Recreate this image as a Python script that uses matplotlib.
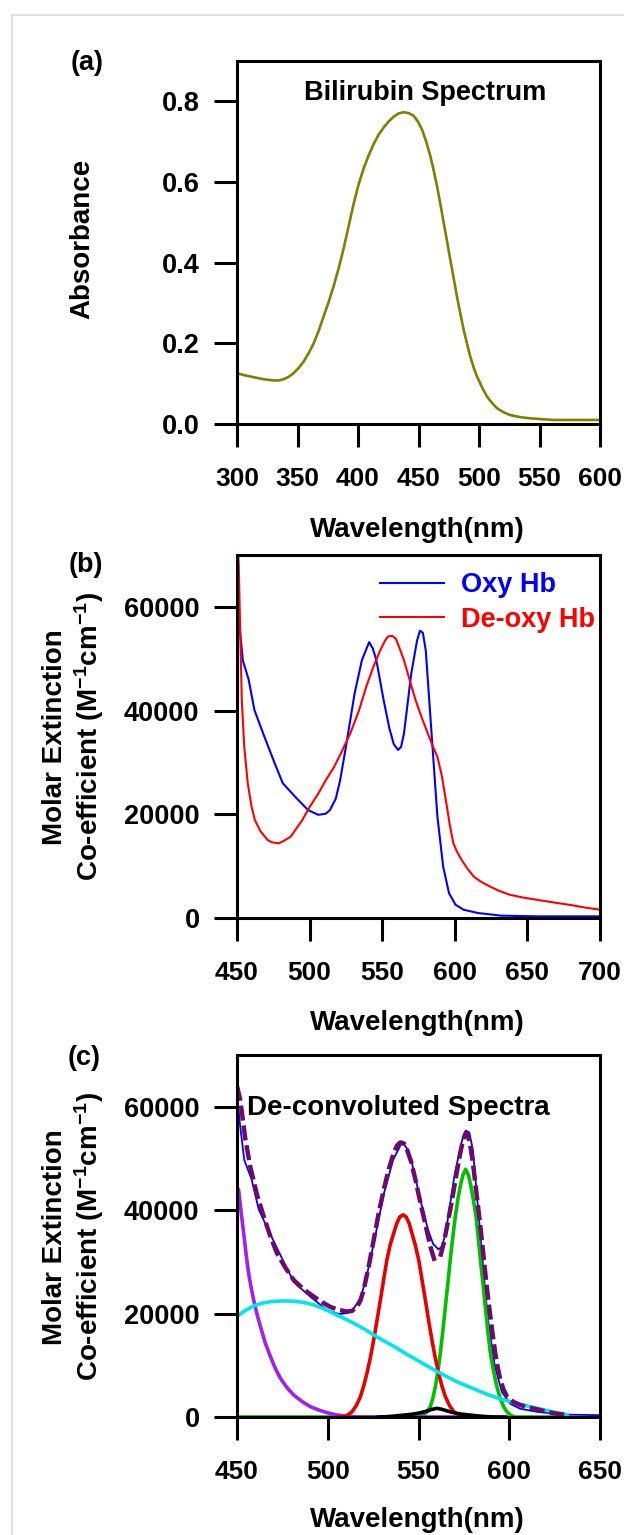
import numpy as np
import matplotlib
matplotlib.use("Agg")
import matplotlib.pyplot as plt
from matplotlib.lines import Line2D

plt.rcParams["font.family"] = ["Liberation Sans", "DejaVu Sans"]
plt.rcParams["font.weight"] = "bold"
plt.rcParams["mathtext.fontset"] = "custom"
plt.rcParams["mathtext.rm"] = "Liberation Sans:bold"
plt.rcParams["mathtext.it"] = "Liberation Sans:bold"
plt.rcParams["mathtext.bf"] = "Liberation Sans:bold"
plt.rcParams["mathtext.default"] = "rm"

# (a) bilirubin absorbance
bili_wl = [300, 306, 313.8, 322, 330.3, 334.5, 338.6, 342.7, 346.8, 351, 355.1,
           359.3, 363.4, 367.5, 371.6, 375.8, 379.9, 384, 388.2, 392.3, 396.4,
           400.6, 404.7, 408.8, 412.9, 417, 421.2, 425.3, 429.5, 433.6, 437.7,
           441.9, 446, 449.5, 452.9, 456.4, 459.8, 462.6, 465.3, 468.1, 470.8,
           473.6, 476.3, 479.1, 481.8, 484.6, 487.3, 490.1, 492.8, 495.6, 498.3,
           502.5, 506.6, 510.8, 514.9, 520.4, 525.9, 534, 542.4, 552, 561.7, 580,
           600]
bili_abs = [0.126, 0.121, 0.116, 0.111, 0.108, 0.108, 0.111, 0.117, 0.126, 0.139,
            0.155, 0.176, 0.200, 0.231, 0.267, 0.303, 0.342, 0.386, 0.436, 0.491,
            0.546, 0.595, 0.634, 0.666, 0.694, 0.717, 0.735, 0.750, 0.762, 0.770,
            0.773, 0.771, 0.764, 0.750, 0.730, 0.700, 0.664, 0.628, 0.590, 0.545,
            0.499, 0.453, 0.407, 0.361, 0.316, 0.273, 0.234, 0.199, 0.167, 0.140,
            0.118, 0.091, 0.068, 0.052, 0.039, 0.029, 0.022, 0.017, 0.014, 0.012,
            0.010, 0.010, 0.010]

# (b) haemoglobin molar extinction
oxy_wl = [450, 451.5, 454, 458, 462, 468, 476, 481.5, 490, 499, 506, 511, 514, 518,
          521, 525, 531, 536, 541, 543.5, 546, 551, 555, 558, 561, 563, 565, 570,
          574, 576, 578, 580, 584, 588, 592, 596, 600.5, 606, 616, 632, 657, 700]
oxy_eps = [62500, 57000, 49700, 46000, 40100, 35600, 29800, 26000, 23400, 20800,
           19900, 20100, 20800, 23000, 26500, 33000, 43300, 49700, 53200, 52000,
           49700, 42000, 36500, 33500, 32400, 33000, 35600, 47100, 53500, 55400,
           55000, 51600, 35600, 19600, 9900, 4800, 2560, 1600, 960, 450, 320, 320]

deoxy_wl = [450, 451.2, 453.3, 455, 457.4, 460, 462.3, 466, 471, 474, 478.8, 483,
            487, 491, 495, 500, 506, 511, 517, 522, 528, 534, 539, 544, 548.6, 552,
            554, 557, 559.5, 562, 565, 569, 573, 577, 581.4, 585, 588, 591, 593.8,
            596.5, 599, 601.5, 604.7, 608.5, 613, 618, 624, 630, 637.6, 646, 656.7,
            668, 680, 690, 700]
deoxy_eps = [76000, 68000, 42000, 33000, 26000, 21500, 18900, 16800, 15060, 14600,
             14400, 15000, 15700, 17300, 18900, 21400, 24000, 26500, 29200, 32000,
             35600, 40000, 44600, 48500, 51600, 53500, 54300, 54400, 53800, 52000,
             49700, 45800, 42000, 38800, 35600, 33000, 31100, 27500, 22800, 18000,
             14400, 12800, 11200, 9600, 8000, 7000, 6100, 5300, 4500, 4000, 3500,
             3000, 2500, 2000, 1600]

# (c) de-convoluted components of the oxy Hb spectrum
fit_wl = [450, 451.8, 454.5, 457.3, 461, 464.7, 468.3, 472, 476.6, 481.2, 486.7,
          492.2, 496.8, 501.4, 506, 510.6, 513.4, 516.1, 518, 519.8, 522.5, 525.3,
          528, 530.8, 533.5, 536.3, 538.2, 540, 541.9, 543.7, 546, 548.3, 550.5,
          552.8, 554.7, 556.5, 559.3, np.nan, 562, 563.9, 565.7, 567.6, 569.4,
          571.2, 573, 574.5, 576, 577.3, 578.6, 580, 581.3, 582.7, 584.1, 585.5,
          586.8, 588.2, 589.6, 591, 592.3, 593.7, 595.1, 596.9, 598.8, 602.4,
          606.1, 610.7, 615.3, 619.9, 624.5, 631.8]
fit_eps = [64000, 61300, 54000, 48400, 43000, 38800, 35000, 31700, 28900, 26500,
           24700, 23300, 22200, 21300, 20700, 20400, 20500, 21300, 22500, 24600,
           29000, 34200, 39300, 43900, 47800, 51000, 52500, 53100, 52900, 51700,
           49300, 45900, 42300, 38800, 35800, 33000, 29700, np.nan, 31000, 33600,
           36800, 40300, 43900, 47500, 51000, 53500, 54900, 54300, 52300, 49100,
           45200, 41000, 36800, 32200, 27800, 23400, 19400, 15600, 12300, 9500,
           7200, 5300, 3900, 2900, 2300, 1850, 1480, 1100, 710, 390]

violet_wl = [450, 450.9, 452.3, 453.7, 455, 456.4, 457.8, 459.2, 461, 462.9, 465.6,
             468.4, 471.1, 473.9, 477.5, 481.2, 485.8, 490.4, 495, 499.6, 504.2,
             508.8, 513.4, 518, 570]
violet_eps = [44500, 43900, 39500, 35500, 31500, 27800, 25000, 22600, 19900, 17500,
              14300, 11700, 9400, 7500, 5700, 4260, 3000, 2000, 1350, 840, 450,
              200, 70, 0, 0]

cyan_wl = [450, 454.6, 459.2, 463.8, 468.4, 474.8, 481.2, 486.7, 492.2, 498.6, 505.1,
           510.6, 516.1, 521.6, 527.1, 532.6, 538.2, 543.7, 549.2, 554.7, 560.2,
           565.7, 571.2, 576.7, 582.2, 587.7, 593.3, 598.8, 604.3, 609.8, 615.3,
           620.8, 626.3, 631.8]
cyan_eps = [19500, 20600, 21500, 22000, 22300, 22450, 22400, 22150, 21700, 20800,
            19700, 18800, 17800, 16700, 15500, 14400, 13300, 12100, 11000, 9900,
            8800, 7800, 6800, 6000, 5200, 4400, 3700, 3150, 2650, 2150, 1700, 1250,
            840, 390]

red_wl = [506, 508.8, 511.1, 513.4, 515.7, 518, 519.8, 521.6, 523.5, 525.3, 527.1,
          529, 530.8, 532.6, 534.4, 536.3, 538, 539.7, 541.5, 543.2, 544.9, 546.4,
          548.2, 550.1, 551.9, 553.8, 555.6, 557.4, 559.2, 561.1, 562.9, 564.8,
          567.1, 569.4, 572.1, 574.9, 580]
red_eps = [0, 65, 400, 1030, 2200, 3930, 6000, 8450, 11500, 14900, 18600, 22600,
           26600, 30400, 33300, 35500, 37400, 38700, 39100, 38700, 37400, 35500,
           33300, 30400, 26600, 22600, 18600, 14900, 11500, 8450, 6000, 3930, 2200,
           1030, 400, 65, 0]

black_wl = [528, 532.6, 536.5, 540, 543.7, 547.3, 551, 554.6, 557.5, 560.2, 563,
            566, 569.5, 573, 576.7, 580.4, 584, 587.7, 592, 598]
black_eps = [0, 65, 170, 300, 430, 580, 820, 1150, 1480, 1680, 1480, 1150, 820, 580,
             430, 300, 170, 65, 20, 0]

green_wl = [450, 549, 552.8, 554.7, 556.5, 557.9, 559.3, 560.7, 562, 563.4, 564.8,
            566.2, 567.5, 568.9, 570.3, 571.7, 573, 574.5, 576, 577.5, 578.9, 580.3,
            581.7, 582.9, 584.1, 585.5, 586.8, 588.2, 589.6, 591.4, 593.2, 595,
            596.9, 598.7, 600.6, 603, 630]
green_eps = [0, 0, 390, 1000, 2000, 3600, 5900, 8800, 12300, 16600, 21300, 25900,
             30400, 34800, 38800, 42100, 44600, 46800, 47900, 46800, 44600, 41800,
             38800, 34800, 30400, 25900, 21300, 16600, 12300, 8800, 5900, 3600, 2000,
             1000, 390, 0, 0]


W, H = 624, 1535
fig = plt.figure(figsize=(W / 100, H / 100), dpi=100)


def fx(px):
    return px / W


def fy(py):
    return 1 - py / H


def make_axes(top, bottom):
    ax = fig.add_axes([fx(237), fy(bottom), fx(600) - fx(237), (bottom - top) / H])
    for s in ax.spines.values():
        s.set_linewidth(2.2)
    ax.tick_params(direction="out", length=16.5, width=2.2, top=False, right=False)
    ax.tick_params(axis="x", labelsize=19, pad=14.5)
    ax.tick_params(axis="y", labelsize=19.5, pad=10.5)
    return ax


# light frame of the source page
fig.add_artist(Line2D([fx(12), 1], [fy(15), fy(15)], color="#dcdcdc", lw=1.2))
fig.add_artist(Line2D([fx(12), fx(12)], [0, fy(15)], color="#dcdcdc", lw=1.2))

# ---- (a)
ax1 = make_axes(61, 424)
ax1.plot(bili_wl, bili_abs, color="#808000", lw=1.9)
ax1.set_xlim(300, 600)
ax1.set_ylim(0, 0.9)
ax1.set_xticks(range(300, 601, 50))
ax1.set_yticks([0, 0.2, 0.4, 0.6, 0.8], ["0.0", "0.2", "0.4", "0.6", "0.8"])
ax1.text(0.518, 0.912, "Bilirubin Spectrum", transform=ax1.transAxes,
         ha="center", va="center", fontsize=19.5)
fig.text(fx(87), fy(63), "(a)", ha="center", va="center", fontsize=19.5)
fig.text(fx(82), fy(239), "Absorbance", rotation=90, ha="center", va="center",
         fontsize=20)
fig.text(fx(417), fy(530), "Wavelength(nm)", ha="center", va="center", fontsize=20)

ylab = "Molar Extinction\nCo-efficient (M$^{-1}$cm$^{-1}$)"

# ---- (b)
ax2 = make_axes(555, 918)
ax2.plot(oxy_wl, oxy_eps, color="#0000ff", lw=1.5, label="Oxy Hb")
ax2.plot(deoxy_wl, deoxy_eps, color="#ff0000", lw=1.5, label="De-oxy Hb")
ax2.set_xlim(450, 700)
ax2.set_ylim(0, 70000)
ax2.set_xticks(range(450, 701, 50))
ax2.set_yticks(range(0, 60001, 20000))
ax2.legend(frameon=False, loc="upper left", bbox_to_anchor=(0.394, 0.952),
           borderpad=0, borderaxespad=0, handlelength=2.37, handletextpad=0.63,
           labelspacing=0.3, prop={"size": 19.5, "weight": "bold"},
           labelcolor="linecolor")
fig.text(fx(86), fy(565), "(b)", ha="center", va="center", fontsize=19.5)
fig.text(fx(74), fy(737), ylab, rotation=90, ha="center", va="center",
         fontsize=20, linespacing=1.15, multialignment="center")
fig.text(fx(417), fy(1023), "Wavelength(nm)", ha="center", va="center", fontsize=20)

# ---- (c)
ax3 = make_axes(1055, 1417)
ax3.plot(oxy_wl, oxy_eps, color="#0000ff", lw=1.3)
ax3.plot(green_wl, green_eps, color="#00c000", lw=2.6)
ax3.plot(violet_wl, violet_eps, color="#a020f0", lw=2.6)
ax3.plot(red_wl, red_eps, color="#e60000", lw=2.6)
ax3.plot(black_wl, black_eps, color="#000000", lw=2.6)
ax3.plot(cyan_wl, cyan_eps, color="#00e6f0", lw=2.6)
ax3.plot(fit_wl, fit_eps, color="#6e0a6a", lw=3.2, dashes=(3.4, 1.1))
ax3.set_xlim(450, 650)
ax3.set_ylim(0, 70000)
ax3.set_xticks(range(450, 651, 50))
ax3.set_yticks(range(0, 60001, 20000))
ax3.text(0.027, 0.854, "De-convoluted Spectra", transform=ax3.transAxes,
         ha="left", va="center", fontsize=20)
fig.text(fx(84), fy(1058), "(c)", ha="center", va="center", fontsize=19.5)
fig.text(fx(74), fy(1237), ylab, rotation=90, ha="center", va="center",
         fontsize=20, linespacing=1.15, multialignment="center")
fig.text(fx(417), fy(1520), "Wavelength(nm)", ha="center", va="center", fontsize=20)

fig.savefig("out.png", dpi=100)
